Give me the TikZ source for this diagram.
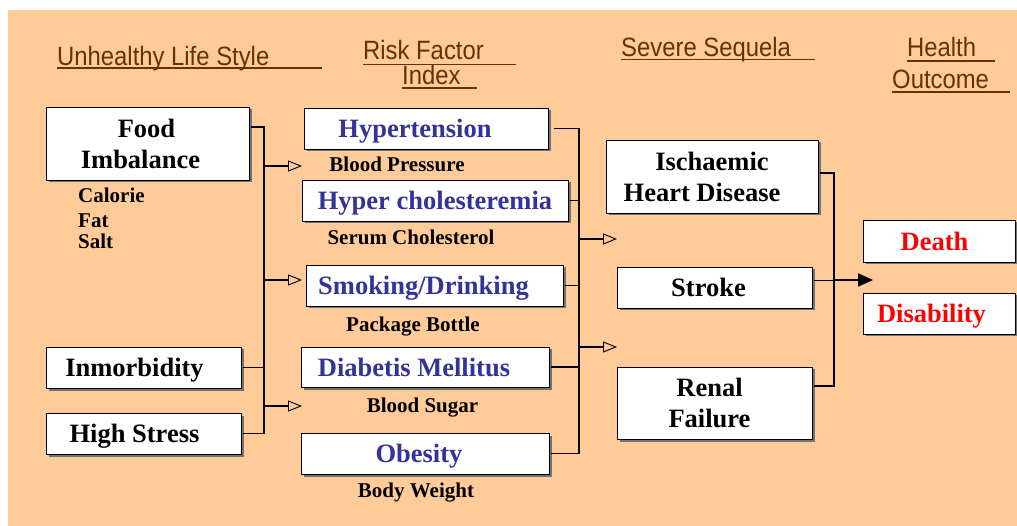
\documentclass[tikz,border=0pt]{standalone}
\usepackage{fontspec}
\setmainfont{Liberation Serif}
\newfontfamily\headfont[FakeStretch=0.9]{Liberation Sans}
\usetikzlibrary{arrows.meta,shadows,calc}
\definecolor{peach}{HTML}{FFCC99}
\definecolor{headbrown}{HTML}{663300}
\definecolor{riskblue}{HTML}{333399}
\definecolor{outred}{HTML}{FF0000}
% move a centred line left by half of the given amount
\newcommand{\pullleft}[1]{\hspace*{-#1}}

\begin{document}
\begin{tikzpicture}[x=1pt,y=-1pt,
  box/.style={draw=black,line width=0.9pt,fill=white,inner sep=0pt,outer sep=0pt,
    align=center,text depth=-4pt,font=\bfseries\fontsize{26.5}{31}\selectfont,
    drop shadow={shadow xshift=2.5pt,shadow yshift=-2.5pt,fill=black!55,opacity=1}},
  riskbox/.style={box,text=riskblue},
  outbox/.style={box,text=outred},
  note/.style={font=\bfseries\fontsize{21}{23.5}\selectfont,inner sep=0pt},
  head/.style={font=\headfont\fontsize{26.5}{30}\selectfont,text=headbrown,inner sep=0pt,anchor=base west},
  uline/.style={draw=headbrown,line width=1.5pt},
  link/.style={line width=1.1pt},
  openarrow/.style={line width=1.9pt,-{Triangle[open,length=14pt,width=11pt,line width=0.9pt]}},
  fillarrow/.style={line width=1.9pt,-{Triangle[length=15pt,width=13pt]}}
]
\useasboundingbox (0,0) rectangle (1017,526);
\fill[peach] (8,10) rectangle (1017,526);

% column headings
\node[head] (h1) at (57,66) {Unhealthy Life Style};
\node[head] (h2) at (363,60) {Risk Factor};
\node[head] (h3) at (402,85) {Index};
\node[head] (h4) at (621,57) {Severe Sequela};
\node[head] (h5) at (907,57) {Health};
\node[head] (h6) at (892,89) {Outcome};
\draw[uline] (57,68) -- (322,68);
\draw[uline] (363,64.5) -- (516,64.5);
\draw[uline] (402,88) -- (477,88);
\draw[uline] (621,59.5) -- (815,59.5);
\draw[uline] (907,61) -- (995,61);
\draw[uline] (892,92) -- (1010,92);

% life style
\node[box,minimum width=203pt,minimum height=73pt] (food) at (147.5,143.5) {\pullleft{2pt}Food\\\pullleft{14pt}Imbalance};
\node[box,minimum width=195pt,minimum height=41pt] (inmorb) at (143.5,367.5) {\pullleft{18pt}Inmorbidity};
\node[box,minimum width=195pt,minimum height=41pt] (stress) at (143.5,433.5) {\pullleft{18pt}High Stress};
\node[note,anchor=base west] (cal) at (78,203) {Calorie};
\node[note,anchor=base west] (fat) at (78,228) {Fat};
\node[note,anchor=base west] (salt) at (78,249) {Salt};

% risk factors
\node[riskbox,minimum width=244pt,minimum height=41pt] (hyper) at (426,128.5) {\pullleft{22pt}Hypertension};
\node[riskbox,minimum width=266pt,minimum height=41pt] (chol) at (435,200.5) {Hyper cholesteremia};
\node[riskbox,minimum width=257pt,minimum height=41pt] (smoke) at (434.5,285.5) {\pullleft{22pt}Smoking/Drinking};
\node[riskbox,minimum width=248pt,minimum height=40pt] (diab) at (425,367) {\pullleft{22pt}Diabetis Mellitus};
\node[riskbox,minimum width=248pt,minimum height=41pt] (obes) at (425,453.5) {\pullleft{12pt}Obesity};
\node[note,anchor=base] (bp) at (397,172) {Blood Pressure};
\node[note,anchor=base] (sc) at (411,245) {Serum Cholesterol};
\node[note,anchor=base] (pb) at (413,332) {Package Bottle};
\node[note,anchor=base] (bs) at (422.5,412) {Blood Sugar};
\node[note,anchor=base] (bw) at (416,497) {Body Weight};

% sequelae
\node[box,minimum width=212pt,minimum height=73pt] (isch) at (712,176.5) {Ischaemic\\\pullleft{20pt}Heart Disease};
\node[box,minimum width=195pt,minimum height=41pt] (stroke) at (714.5,287.5) {\pullleft{12pt}Stroke};
\node[box,minimum width=195pt,minimum height=72pt] (renal) at (714.5,403) {\pullleft{10pt}Renal\\\pullleft{10pt}Failure};

% outcomes
\node[outbox,minimum width=152pt,minimum height=42pt] (death) at (939,241) {\pullleft{9pt}Death};
\node[outbox,minimum width=152pt,minimum height=41pt] (disab) at (939,313.5) {\pullleft{15pt}Disability};

% bus lines and arrow ends
\coordinate (busA) at (264,0);
\coordinate (busB) at (579,0);
\coordinate (a1) at (302,166);
\coordinate (a2) at (302,280);
\coordinate (a3) at (302,406);
\coordinate (b1) at (617,239);
\coordinate (b2) at (617,347);
\coordinate (outpt) at (873,280);

% life style -> risk factors
\draw[link] ($(food.north east)+(2,20)$) -| (busA |- stress.east) -- ([xshift=2pt]stress.east);
\draw[link] ([xshift=2pt]inmorb.east) -- (busA |- inmorb.east);
\draw[openarrow] (busA |- a1) -- (a1);
\draw[openarrow] (busA |- a2) -- (a2);
\draw[openarrow] (busA |- a3) -- (a3);

% risk factors -> sequelae
\draw[link] ([xshift=6pt]hyper.east) -| (busB |- obes.east) -- ([xshift=2pt]obes.east);
\draw[link] ([xshift=2pt]chol.east) -- (busB |- chol.east);
\draw[link] ([xshift=2pt]smoke.east) -- (busB |- smoke.east);
\draw[link] ([xshift=2pt]diab.east) -- (busB |- diab.east);
\draw[openarrow] (busB |- b1) -- (b1);
\draw[openarrow] (busB |- b2) -- (b2);

% sequelae -> outcomes
\draw[link] ($(isch.east)+(2,-3.5)$) -| ($(renal.east)+(22,-17)$) -- ($(renal.east)+(2,-17)$);
\draw[line width=0.9pt] ($(stroke.east)+(2,-7.5)$) -- ($(stroke.east)+(22,-7.5)$);
\draw[fillarrow] ($(stroke.east)+(22,-7.5)$) -- (outpt);
\end{tikzpicture}
\end{document}
